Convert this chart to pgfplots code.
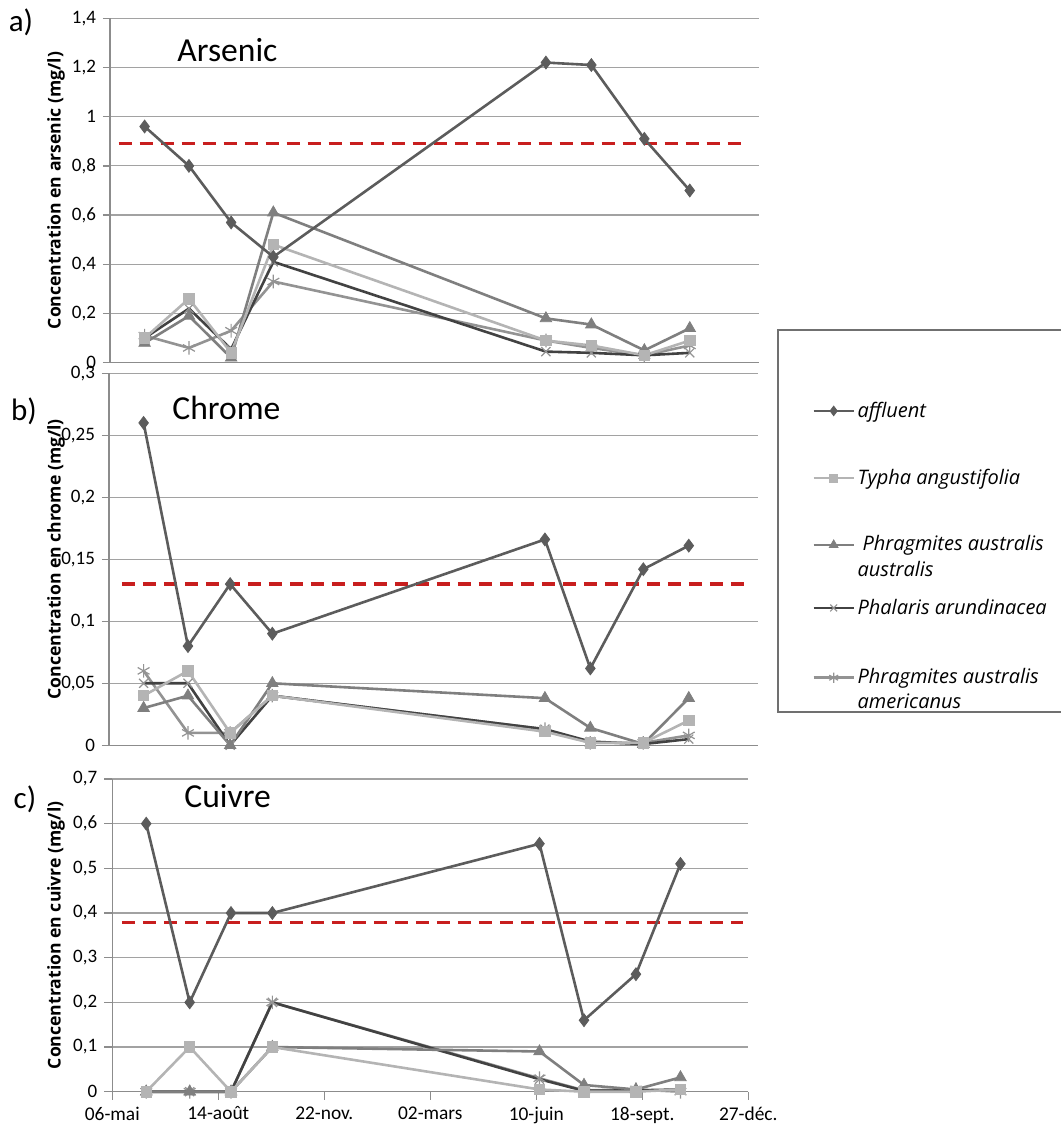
\documentclass[border=0pt]{standalone}
\usepackage{fontspec}
\setmainfont{Carlito}
\newfontfamily\labfont{Open Sans}
\newfontfamily\legfont{Open Sans}
\usepackage{pgfplots}
\usepackage{pgfplotstable}
\pgfplotsset{compat=1.18}

\definecolor{cAff}{HTML}{5C5C5C}
\definecolor{cTyp}{HTML}{B4B4B4}
\definecolor{cPAA}{HTML}{7F7F7F}
\definecolor{cPha}{HTML}{424242}
\definecolor{cPAm}{HTML}{939393}
\definecolor{cRed}{HTML}{C81E1E}
\definecolor{cGrid}{HTML}{A2A2A2}
\definecolor{cAx}{HTML}{8C8C8C}

\pgfplotstableread{
day aff typ paa pha pam
32  0.96 0.10 0.08  0.10  0.11
73  0.80 0.26 0.19  0.22  0.06
112 0.57 0.04 0.02  0.055 0.13
151 0.43 0.48 0.61  0.41  0.33
403 1.22 0.09 0.18  0.045 0.09
445 1.21 0.07 0.155 0.04  0.06
494 0.91 0.03 0.05  0.03  0.03
536 0.70 0.09 0.14  0.04  0.07
}\arsenic

\pgfplotstableread{
day aff typ paa pha pam
32  0.26  0.04  0.03  0.05  0.06
73  0.08  0.06  0.04  0.05  0.01
112 0.13  0.01  0.0   0.0   0.01
151 0.09  0.04  0.05  0.04  0.04
403 0.166 0.011 0.038 0.013 0.013
445 0.062 0.002 0.014 0.003 0.002
494 0.142 0.002 0.001 0.001 0.002
536 0.161 0.02  0.038 0.005 0.008
}\chrome

\pgfplotstableread{
day aff typ paa pha pam
32  0.60  0     0     0     0
73  0.20  0.10  0     0     0
112 0.40  0     0     0     0
151 0.40  0.10  0.10  0.20  0.20
403 0.555 0.005 0.09  0.028 0.03
445 0.16  0     0.015 0.002 0.003
494 0.263 0     0.005 0.003 0.005
536 0.51  0.005 0.032 0.005 0
}\cuivre

\pgfplotsset{
  panel/.style={
    scale only axis, anchor=south west, xmin=0, xmax=600, ymin=0,
    axis x line*=bottom, axis y line*=left,
    axis line style={-, draw=cAx, line width=0.7pt},
    ymajorgrids, grid style={draw=cGrid, line width=0.6pt},
    tick style={draw=cAx, line width=0.7pt}, tick align=outside,
    major tick length=3.5pt,
    yticklabel style={font=\fontsize{9.5}{10}\selectfont,
      /pgf/number format/.cd, use comma, fixed, precision=2, assume math mode=true},
    scaled y ticks=false,
    clip=false,
    ylabel style={font=\labfont\bfseries\fontsize{8.8}{10}\selectfont, anchor=center},
  },
  aff/.style={color=cAff, line width=1.3pt, mark=diamond*, mark size=3.2pt, mark options={solid, line width=0.4pt}},
  typ/.style={color=cTyp, line width=1.3pt, mark=square*, mark size=2.6pt, mark options={solid, line width=0.4pt}},
  paa/.style={color=cPAA, line width=1.3pt, mark=triangle*, mark size=3.3pt, mark options={solid, line width=0.4pt}},
  pha/.style={color=cPha, line width=1.3pt, mark=x, mark size=3.2pt, mark options={solid, line width=0.6pt, draw=cPAm}},
  pam/.style={color=cPAm, line width=1.3pt, mark=asterisk, mark size=3.4pt, mark options={solid, line width=0.6pt}},
  thr/.style={color=cRed, line width=1.6pt, dash pattern=on 6.5pt off 4pt, forget plot},
  legax/.style={
    scale only axis, hide axis, anchor=south west, at={(0pt,0pt)},
    width=530pt, height=564.5pt, xmin=0, xmax=1, ymin=0, ymax=1,
    legend cell align=left,
    legend image code/.code={\draw[mark repeat=2,mark phase=2,##1,line width=1.3pt,every mark/.append style={scale=0.75}] plot coordinates {(0pt,0pt) (10pt,0pt) (20pt,0pt)};},
    legend style={anchor=west, draw=none, fill=none, inner sep=0pt, row sep=3.5pt,
      font=\legfont\itshape\fontsize{10}{12}\selectfont,
      nodes={inner xsep=1.3pt, inner ysep=0pt}},
  },
}

\begin{document}
\begin{tikzpicture}
% ---------- a) Arsenic
\begin{axis}[panel, at={(55pt,383.15pt)}, width=324.5pt, height=172.2pt,
  ymax=1.4, ytick={0,0.2,0.4,0.6,0.8,1,1.2,1.4}, xtick=\empty,
  ylabel={Concentration en arsenic (mg/l)},
  ylabel style={at={(axis description cs:-0.083,0.5)}}]
\addplot[thr] coordinates {(8,0.89) (584,0.89)};
\addplot[pam] table[x=day,y=pam] {\arsenic};
\addplot[pha] table[x=day,y=pha] {\arsenic};
\addplot[paa] table[x=day,y=paa] {\arsenic};
\addplot[typ] table[x=day,y=typ] {\arsenic};
\addplot[aff] table[x=day,y=aff] {\arsenic};
\end{axis}
% ---------- b) Chrome
\begin{axis}[panel, at={(54.5pt,191.85pt)}, width=324.5pt, height=186pt,
  ymax=0.3, ytick={0,0.05,0.1,0.15,0.2,0.25,0.3}, xtick=\empty,
  ylabel={Concentration en chrome (mg/l)},
  ylabel style={at={(axis description cs:-0.0817,0.5)}}]
\addplot[thr] coordinates {(12,0.13) (587,0.13)};
\addplot[pam] table[x=day,y=pam] {\chrome};
\addplot[pha] table[x=day,y=pha] {\chrome};
\addplot[paa] table[x=day,y=paa] {\chrome};
\addplot[typ] table[x=day,y=typ] {\chrome};
\addplot[aff] table[x=day,y=aff] {\chrome};
\end{axis}
% ---------- c) Cuivre
\begin{axis}[panel, at={(56.15pt,18.65pt)}, width=318pt, height=156.35pt,
  ymax=0.7, ytick={0,0.1,0.2,0.3,0.4,0.5,0.6,0.7},
  xtick={0,100,200,300,400,500,600},
  xticklabels={06-mai,14-août,22-nov.,02-mars,10-juin,18-sept.,27-déc.},
  xticklabel style={font=\fontsize{9.7}{10}\selectfont},
  major tick length=4pt,
  ylabel={Concentration en cuivre (mg/l)},
  ylabel style={at={(axis description cs:-0.0885,0.5)}}]
\addplot[thr] coordinates {(9,0.378) (595,0.378)};
\addplot[pam] table[x=day,y=pam] {\cuivre};
\addplot[pha] table[x=day,y=pha] {\cuivre};
\addplot[paa] table[x=day,y=paa] {\cuivre};
\addplot[typ] table[x=day,y=typ] {\cuivre};
\addplot[aff] table[x=day,y=aff] {\cuivre};
\end{axis}
% ---------- legend (one hidden axis per entry, page-sized)
\begin{axis}[legax, legend style={at={(0.766,0.6360)}}]
\addlegendimage{aff}\addlegendentry{affluent}
\end{axis}
\begin{axis}[legax, legend style={at={(0.766,0.5766)}}]
\addlegendimage{typ}\addlegendentry{Typha angustifolia}
\end{axis}
\begin{axis}[legax, legend style={at={(0.766,0.5062)}}]
\addlegendimage{paa}\addlegendentry{\hspace{2.5pt}Phragmites australis}
\addlegendimage{empty legend}\addlegendentry{australis}
\end{axis}
\begin{axis}[legax, legend style={at={(0.766,0.4615)}}]
\addlegendimage{pha}\addlegendentry{Phalaris arundinacea}
\end{axis}
\begin{axis}[legax, legend style={at={(0.766,0.3888)}}]
\addlegendimage{pam}\addlegendentry{Phragmites australis}
\addlegendimage{empty legend}\addlegendentry{americanus}
\end{axis}
% ---------- panel letters and titles
\node[font=\fontsize{15.5}{17}\selectfont] at (10.5pt,553.5pt) {a)};
\node[font=\fontsize{15.5}{17}\selectfont] at (12pt,359pt) {b)};
\node[font=\fontsize{15.5}{17}\selectfont] at (12.5pt,165pt) {c)};
\node[anchor=base west, inner sep=0pt, font=\fontsize{16.8}{18}\selectfont] at (88.5pt,533.5pt) {Arsenic};
\node[anchor=base west, inner sep=0pt, font=\fontsize{16.8}{18}\selectfont] at (86pt,354.5pt) {Chrome};
\node[anchor=base west, inner sep=0pt, font=\fontsize{16.8}{18}\selectfont] at (92pt,160.5pt) {Cuivre};
% ---------- legend frame
\draw[draw=cAx!80!black, line width=0.8pt] (540pt,399.5pt) -- (389pt,399.5pt) -- (389pt,208.5pt) -- (540pt,208.5pt);
\pgfresetboundingbox
\useasboundingbox (0pt,0pt) rectangle (530pt,564.5pt);
\end{tikzpicture}
\end{document}
